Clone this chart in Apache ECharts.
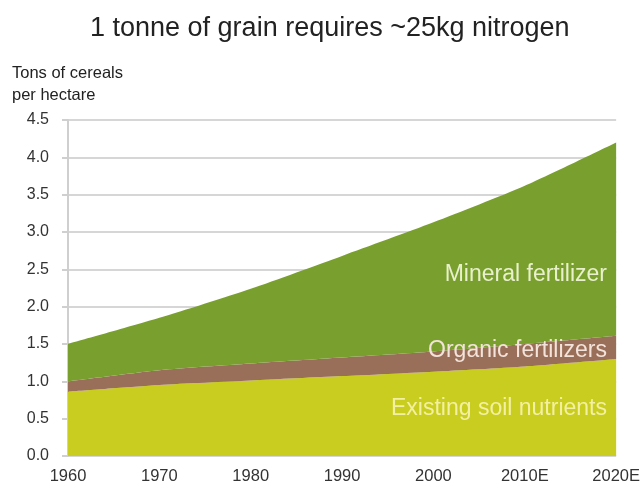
<!DOCTYPE html>
<html>
<head>
<meta charset="utf-8">
<script src="https://cdn.jsdelivr.net/npm/echarts@6/dist/echarts.min.js"></script>
<style>
  html, body { margin: 0; padding: 0; background: #fff; }
  #chart { width: 643px; height: 490px; }
</style>
</head>
<body>
<div id="chart"></div>
<script>
// Decades shown on the x axis
const years = ['1960', '1970', '1980', '1990', '2000', '2010E', '2020E'];

// Tons of cereals per hectare, by nutrient source (stacked)
const soilNutrients = [0.86, 0.95, 1.01, 1.07, 1.13, 1.20, 1.30];
const organicFertilizers = [0.14, 0.20, 0.23, 0.25, 0.27, 0.30, 0.31];
const mineralFertilizer = [0.50, 0.70, 1.00, 1.36, 1.73, 2.12, 2.59];

const seriesNames = ['Existing soil nutrients', 'Organic fertilizers', 'Mineral fertilizer'];
const seriesColors = ['#c9cd1f', '#9a6f5a', '#79a02f'];
const labelColors = ['#f4f0a2', '#f3e3da', '#e9f1cc'];

const FONT = '"Liberation Sans", Arial, sans-serif';

const chart = echarts.init(document.getElementById('chart'));

function areaSeries(name, data, color) {
  return {
    name: name,
    type: 'line',
    stack: 'total',
    data: data,
    smooth: 0.25,
    symbol: 'none',
    lineStyle: { width: 0 },
    areaStyle: { color: color, opacity: 1 },
    emphasis: { disabled: true },
    silent: true
  };
}

// In-chart series captions, right-aligned near the end of each band
function caption(i, y) {
  return {
    type: 'text',
    z: 100,
    silent: true,
    style: {
      x: 607, y: y,
      text: seriesNames[i],
      align: 'right',
      verticalAlign: 'middle',
      font: '23px ' + FONT,
      fill: labelColors[i]
    }
  };
}

chart.setOption({
  animation: false,
  title: {
    text: '1 tonne of grain requires ~25kg nitrogen',
    left: 85,
    top: 10,
    textStyle: { fontFamily: FONT, fontSize: 27, fontWeight: 'normal', color: '#222' }
  },
  grid: { left: 68, right: 25, top: 120, bottom: 34 },
  xAxis: {
    type: 'category',
    data: years,
    boundaryGap: false,
    axisLine: { show: false },
    axisTick: { show: false },
    axisLabel: { fontFamily: FONT, fontSize: 16.5, color: '#333', margin: 12 },
    splitLine: { show: false }
  },
  yAxis: {
    type: 'value',
    min: 0,
    max: 4.5,
    interval: 0.5,
    name: 'Tons of cereals\nper hectare',
    nameLocation: 'end',
    nameGap: 14,
    nameTextStyle: {
      fontFamily: FONT, fontSize: 16.5, color: '#222', align: 'left',
      padding: [0, 0, 0, -56], lineHeight: 22
    },
    axisLine: { show: true, lineStyle: { color: '#cfcfcf', width: 2 } },
    axisTick: { show: true, length: 6, lineStyle: { color: '#cfcfcf', width: 2 } },
    axisLabel: {
      fontFamily: FONT, fontSize: 16, color: '#333', margin: 19,
      formatter: v => v.toFixed(1)
    },
    splitLine: { show: true, lineStyle: { color: '#d6d6d6', width: 2 } }
  },
  series: [
    areaSeries(seriesNames[0], soilNutrients, seriesColors[0]),
    areaSeries(seriesNames[1], organicFertilizers, seriesColors[1]),
    areaSeries(seriesNames[2], mineralFertilizer, seriesColors[2])
  ],
  graphic: [
    caption(2, 275),
    caption(1, 351),
    caption(0, 409)
  ]
});
</script>
</body>
</html>
